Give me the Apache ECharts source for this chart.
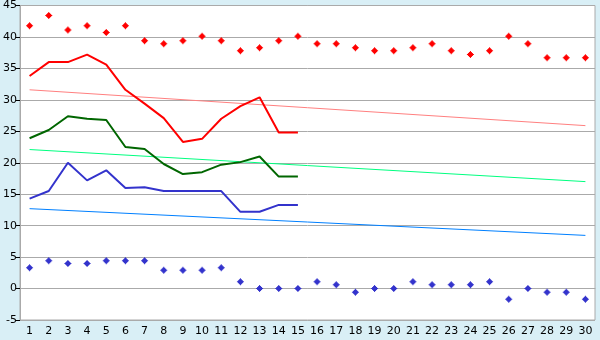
<!DOCTYPE html>
<html>
<head>
<meta charset="utf-8">
<script src="https://cdn.jsdelivr.net/npm/echarts@6/dist/echarts.min.js"></script>
<style>
html,body{margin:0;padding:0;background:#D9EFF6;}
#c{width:600px;height:340px;}
</style>
</head>
<body>
<div id="c"></div>
<script>
const days = Array.from({length:30}, (_, i) => String(i + 1));
const recordHigh = [41.8,43.4,41.1,41.8,40.7,41.8,39.4,38.9,39.4,40.1,39.4,37.8,38.3,39.4,40.1,38.9,38.9,38.3,37.8,37.8,38.3,38.9,37.8,37.2,37.8,40.1,38.9,36.7,36.7,36.7];
const recordLow = [3.3,4.4,4.0,4.0,4.4,4.4,4.4,2.9,2.9,2.9,3.3,1.1,0,0,0,1.1,0.6,-0.6,0,0,1.1,0.6,0.6,0.6,1.1,-1.7,0,-0.6,-0.6,-1.7];
const highs = [33.8,36.0,36.0,37.2,35.6,31.6,29.4,27.1,23.3,23.8,27.0,29.0,30.4,24.8,24.8];
const means = [23.9,25.2,27.4,27.0,26.8,22.5,22.2,19.8,18.2,18.5,19.7,20.1,21.0,17.8,17.8];
const lows = [14.3,15.5,20.0,17.2,18.8,16.0,16.1,15.5,15.5,15.5,15.5,12.2,12.2,13.3,13.3];
const normalHighEnds = [31.6, 25.9];
const normalMeanEnds = [22.1, 17.0];
const normalLowEnds = [12.7, 8.45];
const yTicks = {min: -5, max: 45, interval: 5};

function ends(pair) {
  const a = new Array(days.length).fill(null);
  a[0] = pair[0];
  a[days.length - 1] = pair[1];
  return a;
}
const marker = 'path://M3,0L4,0L4,1L5,1L5,2L6,2L6,3L7,3L7,4L6,4L6,5L5,5L5,6L4,6L4,7L3,7L3,6L2,6L2,5L1,5L1,4L0,4L0,3L1,3L1,2L2,2L2,1L3,1Z';

const chart = echarts.init(document.getElementById('c'), null, {renderer: 'canvas'});
const lineSeries = (name, data, color, width, connect) => ({
  name, type: 'line', data, showSymbol: false, symbol: 'none',
  connectNulls: !!connect, animation: false,
  lineStyle: {color, width}, z: connect ? 2 : 3
});
const scatterSeries = (name, data, color) => ({
  name, type: 'scatter', data, symbol: marker, symbolSize: 7,
  itemStyle: {color, opacity: 1}, animation: false, z: 4
});
chart.setOption({
  backgroundColor: '#D9EFF6',
  animation: false,
  grid: {left: 20, top: 5, right: 5, bottom: 20, show: true, backgroundColor: '#FFFFFF', borderColor: '#AAAAAA', borderWidth: 1},
  xAxis: {
    type: 'category', data: days, boundaryGap: true,
    axisLine: {lineStyle: {color: '#AAAAAA'}},
    axisTick: {alignWithLabel: true, length: 4, lineStyle: {color: '#000'}},
    axisLabel: {color: '#000', fontFamily: 'DejaVu Sans', fontSize: 11, margin: 6, interval: 0},
    splitLine: {show: false}
  },
  yAxis: {
    type: 'value', min: yTicks.min, max: yTicks.max, interval: yTicks.interval,
    axisLine: {show: true, lineStyle: {color: '#AAAAAA'}},
    axisTick: {show: true, length: 4, lineStyle: {color: '#000'}},
    axisLabel: {color: '#000', fontFamily: 'DejaVu Sans', fontSize: 11, margin: 3},
    splitLine: {lineStyle: {color: '#AAAAAA', width: 1}}
  },
  series: [
    lineSeries('normalHigh', ends(normalHighEnds), '#FF8080', 1, true),
    lineSeries('normalMean', ends(normalMeanEnds), '#00FF80', 1, true),
    lineSeries('normalLow', ends(normalLowEnds), '#0080FF', 1, true),
    lineSeries('high', highs, '#FF0000', 2),
    lineSeries('mean', means, '#006600', 2),
    lineSeries('low', lows, '#3333CC', 2),
    scatterSeries('recordHigh', recordHigh, '#FF0000'),
    scatterSeries('recordLow', recordLow, '#3333CC')
  ]
});
</script>
</body>
</html>
